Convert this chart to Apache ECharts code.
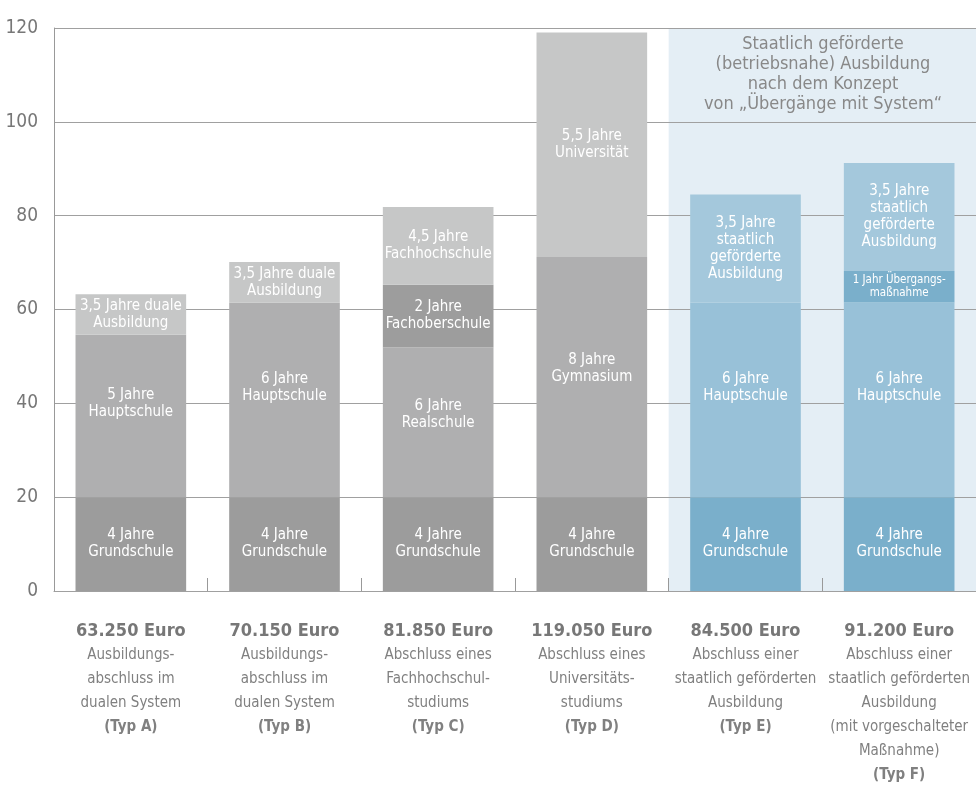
<!DOCTYPE html>
<html>
<head>
<meta charset="utf-8">
<script src="https://cdn.jsdelivr.net/npm/echarts@6/dist/echarts.min.js"></script>
<style>html,body{margin:0;padding:0;background:#fff}#c{width:976px;height:785px}</style>
</head>
<body>
<div id="c"></div>
<script>
// ---- data ----
const categories = ['A', 'B', 'C', 'D', 'E', 'F'];
const totals = ['63.250 Euro', '70.150 Euro', '81.850 Euro', '119.050 Euro', '84.500 Euro', '91.200 Euro'];
const descriptions = [
  ['Ausbildungs-', 'abschluss im', 'dualen System'],
  ['Ausbildungs-', 'abschluss im', 'dualen System'],
  ['Abschluss eines', 'Fachhochschul-', 'studiums'],
  ['Abschluss eines', 'Universitäts-', 'studiums'],
  ['Abschluss einer', 'staatlich geförderten', 'Ausbildung'],
  ['Abschluss einer', 'staatlich geförderten', 'Ausbildung', '(mit vorgeschalteter', 'Maßnahme)']
];
const types = ['(Typ A)', '(Typ B)', '(Typ C)', '(Typ D)', '(Typ E)', '(Typ F)'];
const yTicks = [0, 20, 40, 60, 80, 100, 120];

const layer1 = [20, 20, 20, 20, 20, 20];
const layer1Labels = ['4 Jahre\nGrundschule', '4 Jahre\nGrundschule', '4 Jahre\nGrundschule', '4 Jahre\nGrundschule', '4 Jahre\nGrundschule', '4 Jahre\nGrundschule'];
const layer2 = [34.6, 41.5, 31.9, 51.2, 41.5, 41.5];
const layer2Labels = ['5 Jahre\nHauptschule', '6 Jahre\nHauptschule', '6 Jahre\nRealschule', '8 Jahre\nGymnasium', '6 Jahre\nHauptschule', '6 Jahre\nHauptschule'];
const layer3 = [8.65, 8.65, 13.4, 47.85, 23.0, 6.7];
const layer3Labels = ['3,5 Jahre duale\nAusbildung', '3,5 Jahre duale\nAusbildung', '2 Jahre\nFachoberschule', '5,5 Jahre\nUniversität', '3,5 Jahre\nstaatlich\ngeförderte\nAusbildung', '1 Jahr Übergangs-\nmaßnahme'];
const layer4 = [null, null, 16.55, null, null, 23.0];
const layer4Labels = ['', '', '4,5 Jahre\nFachhochschule', '', '', '3,5 Jahre\nstaatlich\ngeförderte\nAusbildung'];
const noteText = 'Staatlich geförderte\n(betriebsnahe) Ausbildung\nnach dem Konzept\nvon „Übergänge mit System\u201C';

// ---- styles ----
const FONT = '"Liberation Sans Narrow", "DejaVu Sans Condensed", "Liberation Sans", sans-serif';
const colors1 = ['#9c9c9c', '#9c9c9c', '#9c9c9c', '#9c9c9c', '#7aafcb', '#7aafcb'];
const colors2 = ['#afafb0', '#afafb0', '#afafb0', '#afafb0', '#98c1d8', '#98c1d8'];
const colors3 = ['#c6c7c7', '#c6c7c7', '#9d9d9d', '#c6c7c7', '#a4c8dc', '#7aafcb'];
const colors4 = ['#c6c7c7', '#c6c7c7', '#c6c7c7', '#c6c7c7', '#a4c8dc', '#a4c8dc'];

function mk(vals, labels, cols, offsets, small) {
  return vals.map((v, i) => ({
    value: v,
    itemStyle: { color: cols[i], borderWidth: 0 },
    label: Object.assign({ formatter: labels[i], offset: offsets ? offsets[i] : [0, 0] },
      (small && small[i]) ? { fontSize: 11.5, lineHeight: 13 } : {})
  }));
}
const baseLabel = { show: true, position: 'inside', color: '#fff', fontFamily: FONT, fontSize: 15, lineHeight: 17 };
const emph = { disabled: true };

const chart = echarts.init(document.getElementById('c'), null, { renderer: 'canvas' });
chart.setOption({
  animation: false,
  grid: { left: 54, right: 0, top: 28, bottom: 194, containLabel: false },
  xAxis: {
    type: 'category',
    data: categories,
    z: 0,
    axisLine: { show: true, lineStyle: { color: '#999', width: 1 } },
    axisTick: { show: true, inside: true, length: 13, interval: 0, lineStyle: { color: '#999' } },
    splitArea: { show: true, interval: 0, areaStyle: { color: ['rgba(255,255,255,0)', 'rgba(255,255,255,0)', 'rgba(255,255,255,0)', 'rgba(255,255,255,0)', '#e4eef5', '#e4eef5'] } },
    axisLabel: {
      margin: 28,
      interval: 0,
      formatter: function (v) {
        const idx = categories.indexOf(v);
        let s = '{t|' + totals[idx] + '}';
        descriptions[idx].forEach(d => { s += '\n{d|' + d + '}'; });
        s += '\n{b|' + types[idx] + '}';
        return s;
      },
      rich: {
        t: { fontFamily: FONT, fontSize: 18, fontWeight: 'bold', color: '#777', lineHeight: 24 },
        d: { fontFamily: FONT, fontSize: 15, color: '#808080', lineHeight: 24 },
        b: { fontFamily: FONT, fontSize: 15, fontWeight: 'bold', color: '#808080', lineHeight: 24 }
      }
    }
  },
  yAxis: {
    type: 'value',
    min: 0, max: 120, interval: 20,
    z: 1,
    axisLine: { show: true, lineStyle: { color: '#999', width: 1 } },
    axisTick: { show: false },
    splitLine: { show: true, lineStyle: { color: '#a0a0a0', width: 1 } },
    axisLabel: { margin: 16, color: '#777', fontFamily: FONT, fontSize: 19,
      formatter: v => (yTicks.indexOf(v) >= 0 ? String(v) : '') }
  },
  graphic: [{
    type: 'text', x: 823, y: 34, z: 10,
    style: { text: noteText, fill: '#888', font: '18px ' + FONT, lineHeight: 20, textAlign: 'center', align: 'center' }
  }],
  series: [
    { type: 'bar', stack: 's', barWidth: '72%', emphasis: emph, label: baseLabel, data: mk(layer1, layer1Labels, colors1) },
    { type: 'bar', stack: 's', barWidth: '72%', emphasis: emph, label: baseLabel, data: mk(layer2, layer2Labels, colors2, [[0,-12],[0,-12],[0,-8],[0,-8],[0,-12],[0,-12]]) },
    { type: 'bar', stack: 's', barWidth: '72%', emphasis: emph, label: baseLabel, data: mk(layer3, layer3Labels, colors3, null, [false,false,false,false,false,true]) },
    { type: 'bar', stack: 's', barWidth: '72%', emphasis: emph, label: baseLabel, data: mk(layer4, layer4Labels, colors4) }
  ]
});
</script>
</body>
</html>
